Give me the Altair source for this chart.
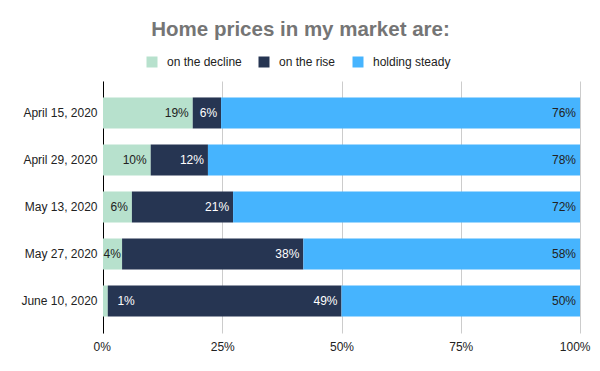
import altair as alt
import pandas as pd

dates = ["April 15, 2020", "April 29, 2020", "May 13, 2020", "May 27, 2020", "June 10, 2020"]
series = ["on the decline", "on the rise", "holding steady"]
decline = [19, 10, 6, 4, 1]
rise = [6, 12, 21, 38, 49]
steady = [76, 78, 72, 58, 50]
colors = ["#b7e1cd", "#263552", "#46b4fe"]
x_ticks = [0, 0.25, 0.5, 0.75, 1]

rows = []
for i, d in enumerate(dates):
    for k, (s, vals) in enumerate(zip(series, [decline, rise, steady])):
        rows.append({"date": d, "series": s, "order": k, "value": vals[i]})
df = pd.DataFrame(rows)

FONT = "Liberation Sans"

base = alt.Chart(df).transform_stack(
    stack="value",
    groupby=["date"],
    as_=["start", "end"],
    offset="normalize",
    sort=[alt.SortField("order")],
)

y_enc = alt.Y(
    "date:N",
    sort=dates,
    title=None,
    scale=alt.Scale(paddingInner=0.34, paddingOuter=0.35),
    axis=alt.Axis(
        domainColor="#000000",
        ticks=False,
        labelFontSize=12,
        labelColor="#222222",
        labelPadding=6,
        labelFont=FONT,
    ),
)

bars = base.mark_bar().encode(
    y=y_enc,
    x=alt.X(
        "start:Q",
        scale=alt.Scale(domain=[0, 1], nice=False),
        axis=alt.Axis(
            format="%",
            values=x_ticks,
            grid=True,
            gridColor="#cccccc",
            domain=False,
            ticks=False,
            labelFlush=True,
            labelFlushOffset=10,
            labelPadding=8,
            labelFontSize=12,
            labelColor="#222222",
            labelFont=FONT,
            title=None,
        ),
    ),
    x2="end:Q",
    color=alt.Color(
        "series:N",
        sort=series,
        scale=alt.Scale(domain=series, range=colors),
        legend=alt.Legend(
            title=None,
            orient="none",
            direction="horizontal",
            legendX=43,
            legendY=-25,
            symbolType="square",
            symbolSize=121,
            symbolStrokeWidth=0,
            labelFontSize=12,
            labelFont=FONT,
            labelColor="#222222",
            labelOffset=9,
            columnPadding=16,
        ),
    ),
)

# labels too small to fit in their segment are moved into the next segment;
# narrow segments keep their label clear of the axis line
labels = base.transform_calculate(
    small="datum.end - datum.start < 0.02",
    labelx="datum.end - datum.start < 0.02 ? datum.end + 0.065 : max(datum.end, 0.046)",
    label="datum.value + '%'",
).mark_text(align="right", baseline="middle", dx=-4, fontSize=12, font=FONT).encode(
    y=alt.Y("date:N", sort=dates),
    x=alt.X("labelx:Q"),
    text="label:N",
    color=alt.condition(
        "datum.series == 'on the rise' || datum.small",
        alt.value("#ffffff"),
        alt.value("#222222"),
    ),
)

chart = (
    alt.layer(bars, labels)
    .properties(
        width=477,
        height=252,
        autosize=alt.AutoSizeParams(type="none"),
        padding={"left": 95, "top": 73, "right": 12, "bottom": 30},
        background="#ffffff",
        title=alt.TitleParams(
            "Home prices in my market are:",
            fontSize=20.5,
            font=FONT,
            fontWeight="bold",
            color="#757575",
            anchor="middle",
            dx=-41,
            offset=16,
        ),
    )
    .configure_view(stroke=None)
)

chart.save("out.html", embed_options={"renderer": "svg", "actions": False})
